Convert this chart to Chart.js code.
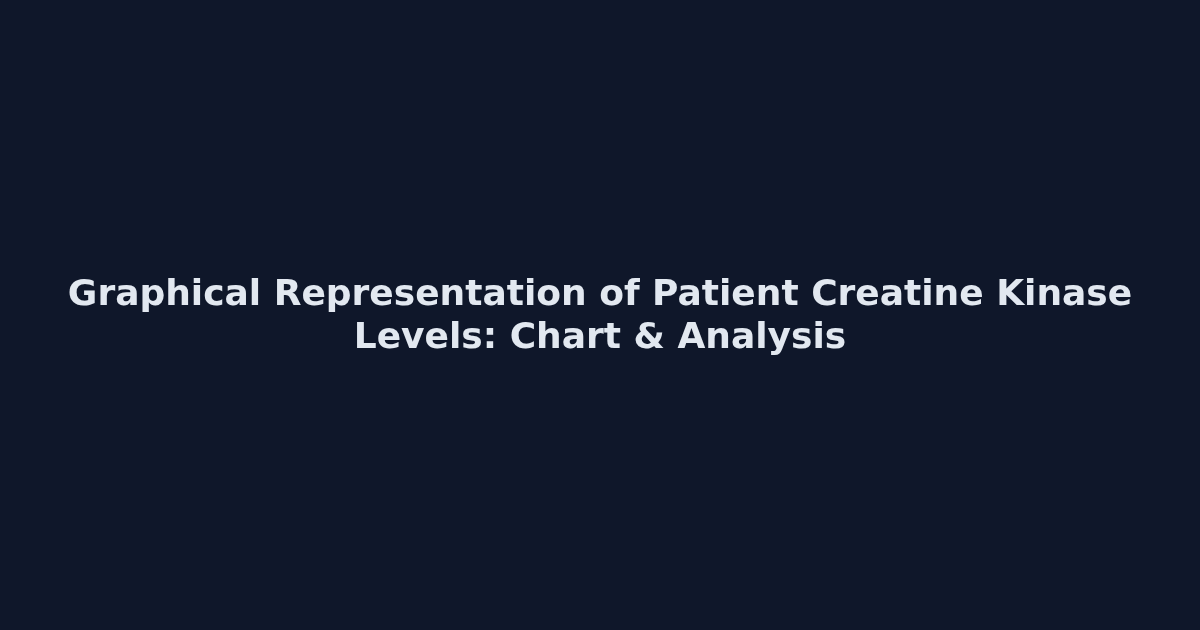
<!DOCTYPE html>
<html>
<head>
<meta charset="utf-8">
<script src="https://cdn.jsdelivr.net/npm/chart.js@4.4.1/dist/chart.umd.min.js"></script>
<style>
  html, body { margin: 0; padding: 0; background: #0f172a; }
  #wrap { width: 1200px; height: 630px; }
</style>
</head>
<body>
<div id="wrap"><canvas id="card"></canvas></div>
<script>
// title card only, no series in the picture
var titleLines = [
  "Graphical Representation of Patient Creatine Kinase",
  "Levels: Chart & Analysis"
];
var labels = [];
var values = [];

// paint the navy background behind everything
var bgPlugin = {
  id: 'bg',
  beforeDraw: function (chart) {
    var ctx = chart.ctx;
    ctx.save();
    ctx.fillStyle = '#0f172a';
    ctx.fillRect(0, 0, chart.width, chart.height);
    ctx.restore();
  }
};

var ctx = document.getElementById('card').getContext('2d');
new Chart(ctx, {
  type: 'bar',
  data: {
    labels: labels,
    datasets: [{ data: values }]
  },
  options: {
    responsive: true,
    maintainAspectRatio: false,
    animation: false,
    layout: { padding: 0 },
    scales: {
      x: { display: false },
      y: { display: false }
    },
    plugins: {
      legend: { display: false },
      tooltip: { enabled: false },
      title: {
        display: true,
        text: titleLines,
        color: '#e2e8f0',
        font: { family: 'DejaVu Sans', size: 36, weight: 'bold', lineHeight: 1.17 },
        padding: { top: 275, bottom: 0 }
      }
    }
  },
  plugins: [bgPlugin]
});
</script>
</body>
</html>
